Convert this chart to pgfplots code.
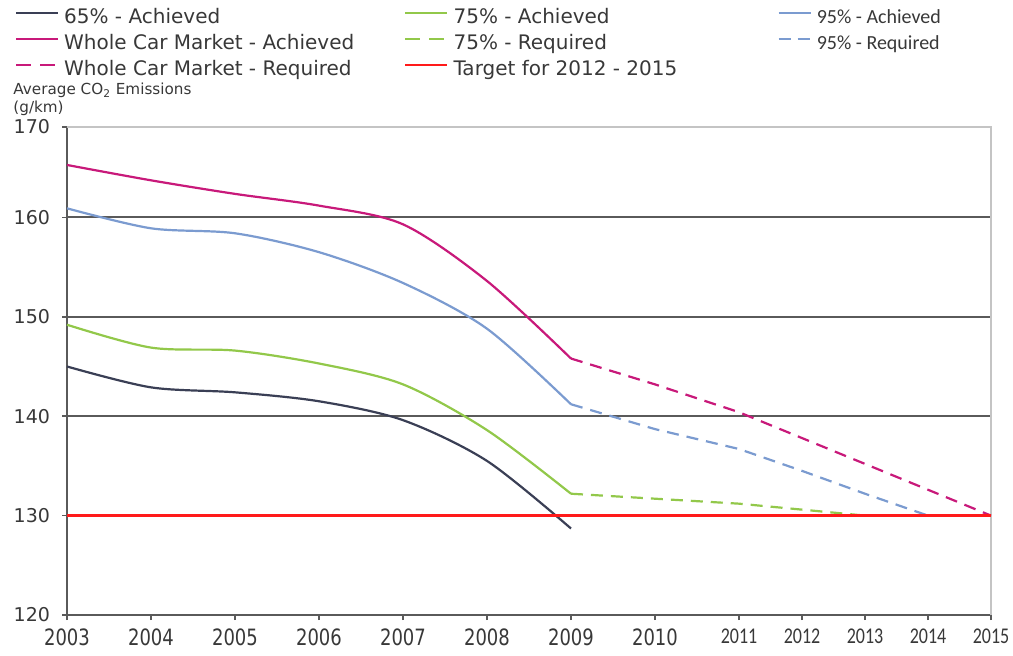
\documentclass[border=0pt]{standalone}
\usepackage{fontspec}
\setmainfont{DejaVu Sans}
\newfontfamily\carlito{Carlito}
\usepackage{pgfplots}
\pgfplotsset{compat=1.18}
\definecolor{cDark}{HTML}{3A3F55}
\definecolor{cPink}{HTML}{C8197A}
\definecolor{cGreen}{HTML}{92C84A}
\definecolor{cBlue}{HTML}{7B9BD0}
\definecolor{cRed}{HTML}{FF1A1A}
\definecolor{cGrid}{HTML}{5A5A5A}
\definecolor{cLight}{HTML}{C4C4C4}
\definecolor{cText}{HTML}{383838}
\pgfplotsset{
  legshort/.style={legend image code/.code={\draw[##1] (0pt,3pt) -- (16pt,3pt);}},
  legdash/.style={legend image code/.code={\draw[##1, dash pattern=on 7.5pt off 4.5pt] (0pt,3pt) -- (21pt,3pt);}},
  legshortdash/.style={legend image code/.code={\draw[##1, dash pattern=on 6pt off 3.5pt] (0pt,3pt) -- (16pt,3pt);}},
}
\begin{document}
\begin{tikzpicture}
\begin{axis}[
  scale only axis, width=462pt, height=244pt,
  xmin=0, xmax=11, ymin=120, ymax=170,
  y coord trafo/.code={\pgfmathparse{#1>160 ? 160+(#1-160)*0.909 : #1}},
  y coord inv trafo/.code={\pgfmathparse{#1>160 ? 160+(#1-160)/0.909 : #1}},
  axis x line*=bottom, axis y line*=left,
  axis line style={cGrid, line width=1pt, -},
  xtick={0,1,2,3,4,5,6,7,8,8.75,9.5,10.25,11},
  xticklabels={2003,2004,2005,2006,2007,2008,2009,2010,{\carlito 2011},{\carlito 2012},{\carlito 2013},{\carlito 2014},{\carlito 2015}},
  ytick={120,130,140,150,160,170},
  yticklabels={120,130,140,150,160,170},
  extra y ticks={140,150,160},
  extra y tick labels={},
  extra y tick style={grid=major, major grid style={cGrid, line width=1pt}, tick style={draw=none}},
  tick align=outside, major tick length=2.5pt,
  tick style={cGrid, line width=0.8pt},
  xticklabel style={font=\fontsize{9}{9}\selectfont, yscale=1.25, text=cText},
  yticklabel style={font=\fontsize{9.5}{9.5}\selectfont, text=cText, xshift=-2.5pt},
  clip=false,
  legend columns=3,
  legend cell align=left,
  legend image code/.code={\draw[#1] (0pt,3pt) -- (21pt,3pt);},
  legend style={draw=none, fill=none, at={(-0.0563,1.2398)}, anchor=north west,
    inner sep=0pt, outer sep=0pt, row sep=4pt,
    font=\fontsize{10}{12}\selectfont, text=cText,
    nodes={inner sep=0pt, text height=7pt, text depth=2pt},
    /tikz/every odd column/.append style={column sep=2.5pt}},
]
\addplot[cLight, line width=0.7pt, forget plot] coordinates {(0,170) (11,170) (11,120)};

\addplot[cDark, line width=1.1pt, smooth] coordinates {
 (0,145.0) (1,142.9) (2,142.4) (3,141.5) (4,139.6) (5,135.5) (6,128.7)};
\addlegendentry{\makebox[170pt][l]{65\% - Achieved}}

\addplot[cGreen, line width=1.1pt, smooth] coordinates {
 (0,149.2) (1,146.9) (2,146.6) (3,145.3) (4,143.2) (5,138.6) (6,132.2)};
\addlegendentry{\makebox[162pt][l]{75\% - Achieved}}

\addplot[cBlue, line width=1.1pt, smooth, legshort] coordinates {
 (0,161.0) (1,158.9) (2,158.4) (3,156.5) (4,153.4) (5,148.8) (6,141.2)};
\addlegendentry{\carlito 95\% - Achieved}

\addplot[cPink, line width=1.1pt, smooth] coordinates {
 (0,165.8) (1,164.1) (2,162.6) (3,161.3) (4,159.3) (5,153.6) (6,145.8)};
\addlegendentry{\makebox[170pt][l]{Whole Car Market - Achieved}}

\addplot[cGreen, line width=1.1pt, dash pattern=on 6pt off 4pt, legdash] coordinates {
 (6,132.2) (7,131.7) (8,131.2) (8.75,130.6) (9.5,130.0)};
\addlegendentry{\makebox[162pt][l]{75\% - Required}}

\addplot[cBlue, line width=1.1pt, dash pattern=on 6pt off 4pt, legshortdash] coordinates {
 (6,141.2) (7,138.7) (8,136.7) (8.75,134.5) (9.5,132.2) (10.25,130.0)};
\addlegendentry{\carlito 95\% - Required}

\addplot[cPink, line width=1.1pt, dash pattern=on 6pt off 4pt, legdash] coordinates {
 (6,145.8) (7,143.2) (8,140.4) (8.75,137.8) (9.5,135.2) (10.25,132.6) (11,130.0)};
\addlegendentry{\makebox[170pt][l]{Whole Car Market - Required}}

\addplot[cRed, line width=1.2pt] coordinates {(0,130) (11,130)};
\addlegendentry{\makebox[162pt][l]{Target for 2012 - 2015}}

\node[anchor=north west, inner sep=0pt, align=left, font=\fontsize{7.6}{8.8}\selectfont, text=cText]
  at (rel axis cs:-0.0584,1.0902) {Average CO\textsubscript{2} Emissions\\(g/km)};
\end{axis}
\pgfresetboundingbox
\path[use as bounding box] (-33.5pt,-20pt) rectangle (473pt,307.5pt);
\end{tikzpicture}
\end{document}
